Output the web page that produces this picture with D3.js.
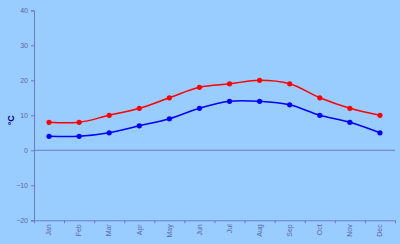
<!DOCTYPE html>
<html><head><meta charset="utf-8">
<script src="https://cdn.jsdelivr.net/npm/d3@7"></script>
<style>body{margin:0;background:#99ccff;}svg{display:block;}</style>
</head><body>
<svg id="c" width="400" height="244"></svg>
<script>
const months = ["Jan","Feb","Mar","Apr","May","Jun","Jul","Aug","Sep","Oct","Nov","Dec"];
const highTemps = [8, 8, 10, 12, 15, 18, 19, 20, 19, 15, 12, 10];
const lowTemps = [4, 4, 5, 7, 9, 12, 14, 14, 13, 10, 8, 5];
const yTicks = [-20, -10, 0, 10, 20, 30, 40];

(function(){
const svg = d3.select("#c");
const pLeft = 34, pRight = 395, pTop = 10.3, pBottom = 220.3;
const axisColor = "#6a7ad0", textColor = "#5a6aa8";

svg.append("rect").attr("width",400).attr("height",244).attr("fill","#99ccff");

const x = d3.scaleBand().domain(months).range([pLeft, pRight]);
const y = d3.scaleLinear().domain([-20, 40]).range([pBottom, pTop]);

// zero line
svg.append("line").attr("x1",pLeft).attr("x2",pRight).attr("y1",y(0)).attr("y2",y(0))
  .attr("stroke",axisColor).attr("stroke-width",1);

// y axis
const ya = svg.append("g").attr("transform",`translate(${pLeft},0)`)
  .call(d3.axisLeft(y).tickValues(yTicks).tickSize(3).tickPadding(3));
ya.select(".domain").attr("stroke",axisColor);
ya.selectAll(".tick line").attr("stroke",axisColor);
ya.selectAll("text").attr("fill",textColor).style("font-family","Liberation Sans, Arial, sans-serif").style("font-size","7px");

// x axis
const xa = svg.append("g").attr("transform",`translate(0,${pBottom})`)
  .call(d3.axisBottom(x).tickSize(0).tickPadding(4));
xa.select(".domain").attr("stroke",axisColor).attr("d",`M${pLeft},0.5H${pRight}`);
xa.selectAll(".tick text").attr("fill",textColor)
  .style("font-family","Liberation Sans, Arial, sans-serif").style("font-size","7px")
  .attr("transform","rotate(-90)").attr("text-anchor","end").attr("dy","0.32em").attr("x",-4).attr("y",0);
const bounds = months.map(m => x(m)).concat([pRight]);
xa.selectAll(".bt").data(bounds).enter().append("line")
  .attr("x1",d=>d+0.5).attr("x2",d=>d+0.5).attr("y1",0).attr("y2",3).attr("stroke",axisColor);

// unit label
svg.append("text").attr("transform",`translate(14,${y(10)+5}) rotate(-90)`)
  .attr("text-anchor","middle").attr("fill","#000080")
  .style("font-family","Liberation Sans, Arial, sans-serif").style("font-size","9px").style("font-weight","bold")
  .text("°C");

const cx = m => x(m) + x.bandwidth()/2;
const line = d3.line().x((d,i)=>cx(months[i])).y(d=>y(d)).curve(d3.curveCatmullRom.alpha(0.5));

[[highTemps,"#ff0000"],[lowTemps,"#0000ff"]].forEach(([data,col])=>{
  svg.append("path").attr("d",line(data)).attr("fill","none").attr("stroke",col).attr("stroke-width",1.5);
  svg.selectAll(null).data(data).enter().append("circle")
    .attr("cx",(d,i)=>cx(months[i])).attr("cy",d=>y(d)).attr("r",2.6).attr("fill",col);
});
})();
</script>
</body></html>
